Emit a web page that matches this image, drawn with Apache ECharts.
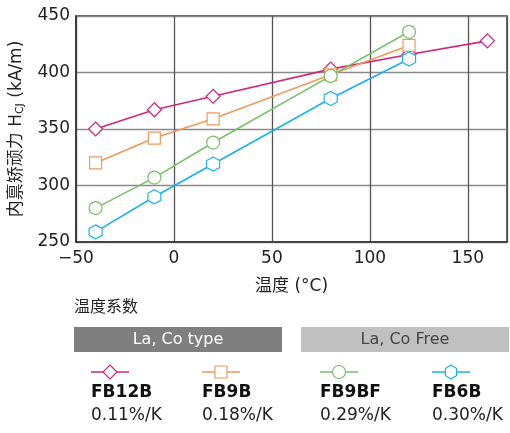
<!DOCTYPE html>
<html>
<head>
<meta charset="utf-8">
<script src="https://cdn.jsdelivr.net/npm/echarts@6/dist/echarts.min.js"></script>
<style>html,body{margin:0;padding:0;background:#fff}#c{width:510px;height:433px}</style>
</head>
<body>
<div id="c"></div>
<script>
var temps = [-40, -10, 20, 80, 120, 160];
var seriesNames = ['FB12B', 'FB9B', 'FB9BF', 'FB6B'];
var coefLabels = ['0.11%/K', '0.18%/K', '0.29%/K', '0.30%/K'];
var groupLabels = ['La, Co type', 'La, Co Free'];
var fb12b = [350, 367, 379, 403, 416, 428];
var fb9b = [320, 342, 359, 398, 424];
var fb9bf = [280, 307, 338, 397, 436];
var fb6b = [259, 290, 319, 377, 412];
var xTicks = [-50, 0, 50, 100, 150];
var yTicks = [250, 300, 350, 400, 450];

var colors = ['#d1267d', '#ed9a5c', '#78c06b', '#18b2ea'];
var hexPath = 'path://M0.5,0 L0.933,0.25 L0.933,0.75 L0.5,1 L0.067,0.75 L0.067,0.25 Z';
var symbols = ['diamond', 'rect', 'circle', hexPath];
var symSizes = [[14,14],[12,12],[13,13],[13,14]];
var allData = [fb12b, fb9b, fb9bf, fb6b];
var font = '"DejaVu Sans", "Noto Sans CJK SC", sans-serif';

var chart = echarts.init(document.getElementById('c'));
var series = allData.map(function (d, i) {
  return {
    name: seriesNames[i], type: 'line',
    data: d.map(function (v, j) { return [temps[j], v]; }),
    symbol: symbols[i], symbolSize: symSizes[i],
    itemStyle: { color: '#fff', borderColor: colors[i], borderWidth: 1.2 },
    lineStyle: { color: colors[i], width: 1.6 },
    z: 3 + i, animation: false
  };
});

var graphics = [];
graphics.push({ type: 'text', left: 74, top: 298, style: { text: '温度系数', font: '16px "Noto Sans CJK SC"', fill: '#222' } });
graphics.push({ type: 'rect', shape: { x: 74, y: 327, width: 208, height: 25 }, style: { fill: '#7f7f7f' } });
graphics.push({ type: 'rect', shape: { x: 301, y: 327, width: 208, height: 25 }, style: { fill: '#c0c0c0' } });
graphics.push({ type: 'text', x: 178, y: 340, style: { text: groupLabels[0], font: '500 16px ' + font, fill: '#fff', align: 'center', verticalAlign: 'middle' } });
graphics.push({ type: 'text', x: 405, y: 340, style: { text: groupLabels[1], font: '500 16px ' + font, fill: '#444', align: 'center', verticalAlign: 'middle' } });
var lx = [91, 202, 320, 432];
for (var i = 0; i < 4; i++) {
  graphics.push({ type: 'line', shape: { x1: lx[i], y1: 372, x2: lx[i] + 38, y2: 372 }, style: { stroke: colors[i], lineWidth: 1.6 } });
  graphics.push({ type: 'text', left: lx[i], top: 384, style: { text: seriesNames[i], font: 'bold 17px ' + font, fill: '#111' } });
  graphics.push({ type: 'text', left: lx[i], top: 407, style: { text: coefLabels[i], font: '17px ' + font, fill: '#222' } });
}
for (var k = 0; k < 4; k++) {
  var cx = lx[k] + 19, cy = 372, w = symSizes[k][0], h = symSizes[k][1];
  var s;
  if (k === 0) s = { type: 'polygon', shape: { points: [[cx, cy - h/2], [cx + w/2, cy], [cx, cy + h/2], [cx - w/2, cy]] } };
  else if (k === 1) s = { type: 'rect', shape: { x: cx - w/2, y: cy - h/2, width: w, height: h } };
  else if (k === 2) s = { type: 'circle', shape: { cx: cx, cy: cy, r: w/2 } };
  else s = { type: 'polygon', shape: { points: [[cx, cy - h/2], [cx + w*0.433, cy - h/4], [cx + w*0.433, cy + h/4], [cx, cy + h/2], [cx - w*0.433, cy + h/4], [cx - w*0.433, cy - h/4]] } };
  s.style = { fill: '#fff', stroke: colors[k], lineWidth: 1.2 };
  s.z = 10;
  graphics.push(s);
}

chart.setOption({
  animation: false,
  grid: { left: 74, top: 16, right: 1, bottom: 191, show: true, borderColor: '#333', borderWidth: 1.5, backgroundColor: 'transparent' },
  xAxis: {
    type: 'value', min: -50, max: 170, interval: 50,
    name: '温度 (°C)', nameLocation: 'middle', nameGap: 36,
    nameTextStyle: { fontSize: 17, color: '#222', fontFamily: font },
    axisLine: { show: true, onZero: false, lineStyle: { color: '#333', width: 1.5 } },
    axisTick: { show: false },
    axisLabel: { fontSize: 17, color: '#222', fontFamily: font, margin: 8,
      formatter: function (v) { return xTicks.indexOf(v) >= 0 ? (v < 0 ? '\u2212' + Math.abs(v) : String(v)) : ''; } },
    splitLine: { show: true, lineStyle: { color: '#555', width: 1.3 } }
  },
  yAxis: {
    type: 'value', min: 250, max: 450, interval: 50,
    name: '{a|内禀矫顽力 H}{s|CJ}{a| (kA/m)}', nameLocation: 'middle', nameGap: 50, nameRotate: 90,
    nameTextStyle: { rich: { a: { fontSize: 17, color: '#222', fontFamily: font }, s: { fontSize: 11, color: '#222', fontFamily: font, padding: [8, 0, 0, 0] } } },
    axisLine: { show: true, onZero: false, lineStyle: { color: '#333', width: 1.5 } },
    axisTick: { show: false },
    axisLabel: { fontSize: 17, color: '#222', fontFamily: font, margin: 6,
      formatter: function (v) { return yTicks.indexOf(v) >= 0 ? String(v) : ''; } },
    splitLine: { show: true, lineStyle: { color: '#8a8a8a', width: 1.3 } }
  },
  series: series,
  graphic: graphics
});
</script>
</body>
</html>
